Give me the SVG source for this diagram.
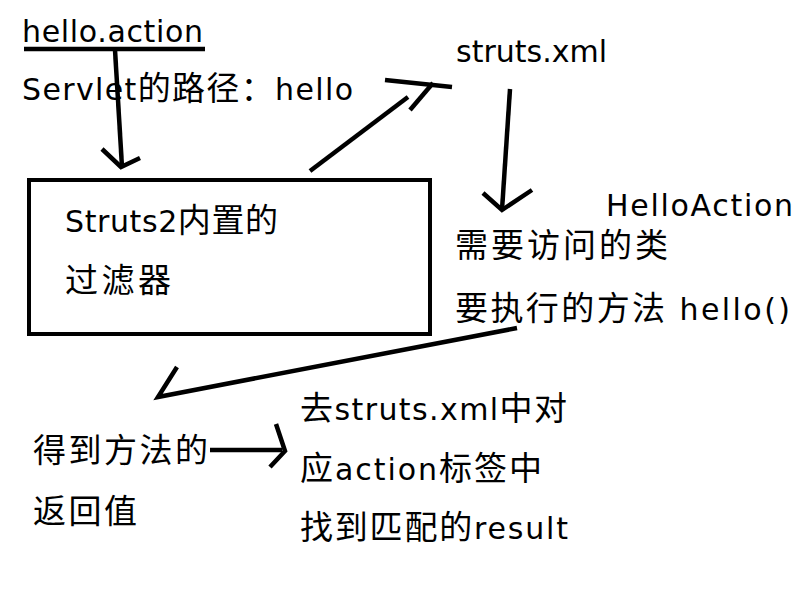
<svg xmlns="http://www.w3.org/2000/svg" width="800" height="600" viewBox="0 0 800 600">
<style>
  text { font-family: "DejaVu Sans", "Noto Sans CJK SC", sans-serif; font-size: 30px; fill: #000; }
  .c { font-family: "Noto Sans CJK SC", sans-serif; font-size: 33px; }
  .ink { fill: none; stroke: #000; stroke-width: 4.5; stroke-linecap: butt; stroke-linejoin: miter; }
  .box { fill: #fff; stroke: #000; stroke-width: 4; }
</style>
<rect width="800" height="600" fill="#fff"/>

<g id="request">
  <text x="22" y="42" textLength="181">hello.action</text>
  <line class="ink" x1="24" y1="49" x2="205" y2="49" stroke-width="3.5"/>
  <text x="22" y="100" textLength="331">Servlet<tspan class="c">的路径：</tspan>hello</text>
</g>

<g id="filter">
  <rect class="box" x="29" y="180" width="401" height="154"/>
  <text x="65" y="232" textLength="213">Struts2<tspan class="c">内置的</tspan></text>
  <text x="65" y="292" textLength="106"><tspan class="c">过滤器</tspan></text>
</g>

<g id="struts-xml">
  <text x="456" y="62" textLength="151">struts.xml</text>
</g>

<g id="action-info">
  <text x="606" y="216" font-size="29" textLength="187">HelloAction</text>
  <text x="455" y="257" textLength="213"><tspan class="c">需要访问的类</tspan></text>
  <text x="455" y="320" textLength="335"><tspan class="c">要执行的方法</tspan>  hello()</text>
</g>

<g id="return-value">
  <text x="33" y="462" textLength="175"><tspan class="c">得到方法的</tspan></text>
  <text x="33" y="523" textLength="104"><tspan class="c">返回值</tspan></text>
</g>

<g id="result-lookup">
  <text x="300" y="420" textLength="267"><tspan class="c">去</tspan>struts.xml<tspan class="c">中对</tspan></text>
  <text x="300" y="480" textLength="242"><tspan class="c">应</tspan>action<tspan class="c">标签中</tspan></text>
  <text x="300" y="539" textLength="268"><tspan class="c">找到匹配的</tspan>result</text>
</g>

<g id="connectors">
  <!-- hello.action to filter -->
  <line class="ink" x1="115" y1="50" x2="122" y2="167"/>
  <polyline class="ink" points="102,149 121,167 140,158"/>
  <!-- filter to struts.xml -->
  <line class="ink" x1="310" y1="171" x2="408" y2="97"/>
  <line class="ink" x1="410" y1="110" x2="433" y2="83"/>
  <line class="ink" x1="385" y1="80" x2="452" y2="87"/>
  <!-- struts.xml to class -->
  <line class="ink" x1="510" y1="89" x2="502" y2="210"/>
  <polyline class="ink" points="483,193 502,210 532,190"/>
  <!-- method to return value -->
  <polyline class="ink" points="517,328 158,397 177,367"/>
  <!-- return value to result -->
  <line class="ink" x1="210" y1="450" x2="282" y2="450"/>
  <polyline class="ink" points="276,424 285,451 270,467"/>
</g>
</svg>
